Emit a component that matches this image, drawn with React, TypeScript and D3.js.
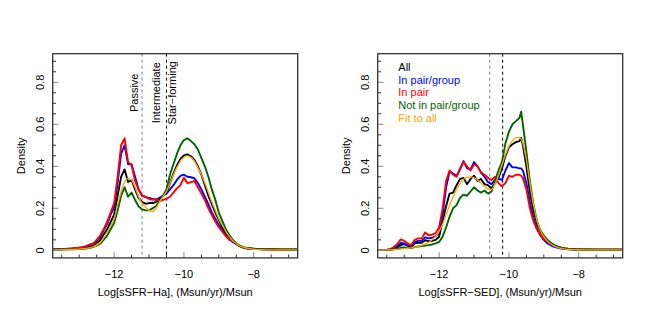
import React from "react";
import * as d3 from "d3";

// ---- left panel: Log[sSFR-Ha] ----
const xHa = [
  -13.76, -13.5, -13.2, -13.0, -12.8,
  -12.7, -12.6, -12.5, -12.4, -12.3, -12.2, -12.1,
  -12.0, -11.9, -11.8, -11.7, -11.6, -11.5, -11.4, -11.3, -11.2, -11.1,
  -11.0, -10.9, -10.8, -10.7, -10.6, -10.5, -10.4, -10.3, -10.2, -10.1,
  -10.0, -9.9, -9.8, -9.7, -9.6, -9.5, -9.4, -9.3, -9.2, -9.1,
  -9.0, -8.9, -8.8, -8.7, -8.6, -8.5, -8.4, -8.3, -8.2,
  -8.0, -7.8, -7.5, -7.2, -6.74,
];
const allHa = [
  0.004, 0.005, 0.007, 0.01, 0.014,
  0.018, 0.025, 0.035, 0.048, 0.075, 0.1, 0.135,
  0.17, 0.26, 0.35, 0.385, 0.325, 0.335, 0.29, 0.25, 0.23, 0.222,
  0.225, 0.225, 0.23, 0.245, 0.26, 0.275, 0.32, 0.365, 0.405, 0.435,
  0.452, 0.457, 0.448, 0.43, 0.4, 0.36, 0.31, 0.26, 0.22, 0.18,
  0.145, 0.11, 0.08, 0.057, 0.042, 0.03, 0.02, 0.014, 0.01,
  0.007, 0.005, 0.004, 0.003, 0.003,
];
const groupHa = [
  0.004, 0.006, 0.008, 0.012, 0.018,
  0.024, 0.033, 0.045, 0.063, 0.095, 0.125, 0.17,
  0.205, 0.32, 0.46, 0.5, 0.41, 0.41, 0.35, 0.29, 0.26, 0.253,
  0.25, 0.245, 0.24, 0.25, 0.26, 0.27, 0.29, 0.31, 0.335, 0.354,
  0.36, 0.35, 0.348, 0.343, 0.32, 0.29, 0.255, 0.22, 0.18, 0.15,
  0.12, 0.097, 0.073, 0.052, 0.04, 0.03, 0.02, 0.013, 0.01,
  0.007, 0.006, 0.004, 0.003, 0.003,
];
const pairHa = [
  0.004, 0.006, 0.01, 0.012, 0.02,
  0.028, 0.03, 0.05, 0.07, 0.1, 0.135, 0.18,
  0.225, 0.35, 0.5, 0.533, 0.42, 0.405, 0.33, 0.29, 0.26, 0.255,
  0.245, 0.24, 0.245, 0.235, 0.24, 0.245, 0.255, 0.275, 0.295, 0.31,
  0.345, 0.32, 0.325, 0.33, 0.3, 0.27, 0.24, 0.2, 0.168, 0.137,
  0.11, 0.089, 0.068, 0.05, 0.048, 0.033, 0.02, 0.013, 0.01,
  0.007, 0.006, 0.004, 0.003, 0.003,
];
const isoHa = [
  0.003, 0.004, 0.005, 0.006, 0.009,
  0.012, 0.016, 0.022, 0.032, 0.05, 0.07, 0.1,
  0.13, 0.19, 0.26, 0.3, 0.255, 0.275, 0.24, 0.21, 0.195, 0.19,
  0.19, 0.2, 0.21, 0.235, 0.26, 0.29, 0.36, 0.41, 0.46, 0.5,
  0.525, 0.533, 0.52, 0.505, 0.48, 0.44, 0.4, 0.35, 0.29, 0.24,
  0.18, 0.14, 0.1, 0.073, 0.05, 0.033, 0.022, 0.015, 0.011,
  0.008, 0.006, 0.005, 0.004, 0.004,
];
const fitHa = [
  0.002, 0.003, 0.004, 0.006, 0.009,
  0.012, 0.017, 0.025, 0.037, 0.058, 0.085, 0.115,
  0.15, 0.215, 0.28, 0.325, 0.343, 0.335, 0.3, 0.255, 0.225, 0.205,
  0.19, 0.185, 0.2, 0.23, 0.255, 0.28, 0.32, 0.36, 0.395, 0.425,
  0.443, 0.45, 0.443, 0.425, 0.395, 0.36, 0.32, 0.275, 0.23, 0.19,
  0.15, 0.12, 0.09, 0.065, 0.046, 0.033, 0.022, 0.015, 0.01,
  0.005, 0.003, 0.002, 0.002, 0.002,
];

// ---- right panel: Log[sSFR-SED] ----
const xSed = [
  -13.76, -13.5, -13.4, -13.3, -13.2, -13.1,
  -13.0, -12.9, -12.8, -12.7, -12.6, -12.5, -12.4, -12.3, -12.2, -12.1,
  -12.0, -11.9, -11.8, -11.7, -11.6, -11.5, -11.4, -11.3, -11.2, -11.1,
  -11.0, -10.9, -10.8, -10.7, -10.6, -10.5, -10.4, -10.3, -10.2, -10.1,
  -10.0, -9.9, -9.8, -9.7, -9.65, -9.6, -9.5, -9.4, -9.3, -9.2, -9.1,
  -9.0, -8.9, -8.8, -8.7, -8.6, -8.5, -8.4, -8.3,
  -8.1, -7.8, -7.5, -7.2, -6.74,
];
const allSed = [
  0.002, 0.002, 0.004, 0.008, 0.015, 0.025,
  0.03, 0.022, 0.015, 0.033, 0.036, 0.036, 0.048, 0.044, 0.045, 0.05,
  0.065, 0.14, 0.21, 0.27, 0.275, 0.31, 0.34, 0.345, 0.315, 0.34,
  0.355, 0.33, 0.34, 0.315, 0.31, 0.295, 0.32, 0.345, 0.39, 0.45,
  0.49, 0.505, 0.515, 0.52, 0.535, 0.5, 0.4, 0.28, 0.19, 0.13, 0.09,
  0.065, 0.047, 0.033, 0.023, 0.016, 0.011, 0.008, 0.006,
  0.004, 0.003, 0.003, 0.003, 0.003,
];
const groupSed = [
  0.002, 0.002, 0.004, 0.01, 0.02, 0.035,
  0.033, 0.024, 0.02, 0.04, 0.045, 0.045, 0.062, 0.057, 0.06, 0.068,
  0.085, 0.17, 0.3, 0.375, 0.365, 0.355, 0.385, 0.425, 0.39, 0.385,
  0.42, 0.4, 0.37, 0.35, 0.325, 0.315, 0.335, 0.34, 0.335, 0.38,
  0.415, 0.395, 0.395, 0.39, 0.39, 0.38, 0.32, 0.23, 0.155, 0.105, 0.072,
  0.05, 0.034, 0.024, 0.017, 0.012, 0.008, 0.006, 0.005,
  0.004, 0.003, 0.003, 0.003, 0.003,
];
const pairSed = [
  0.002, 0.002, 0.005, 0.015, 0.03, 0.052,
  0.045, 0.032, 0.025, 0.05, 0.057, 0.057, 0.085, 0.072, 0.075, 0.082,
  0.11, 0.2, 0.33, 0.38, 0.36, 0.35, 0.39, 0.42, 0.4, 0.38,
  0.41, 0.4, 0.37, 0.36, 0.345, 0.335, 0.35, 0.32, 0.305, 0.32,
  0.355, 0.35, 0.36, 0.36, 0.355, 0.345, 0.29, 0.2, 0.14, 0.1, 0.075,
  0.055, 0.042, 0.032, 0.024, 0.018, 0.013, 0.01, 0.008,
  0.005, 0.003, 0.003, 0.003, 0.003,
];
const isoSed = [
  0.001, 0.002, 0.003, 0.005, 0.008, 0.012,
  0.014, 0.012, 0.011, 0.015, 0.018, 0.02, 0.023, 0.025, 0.028, 0.033,
  0.04, 0.065, 0.11, 0.16, 0.2, 0.215, 0.25, 0.265, 0.26, 0.28,
  0.3, 0.285, 0.275, 0.285, 0.27, 0.28, 0.33, 0.38, 0.42, 0.51,
  0.565, 0.6, 0.615, 0.63, 0.66, 0.6, 0.47, 0.33, 0.22, 0.14, 0.095,
  0.07, 0.05, 0.036, 0.025, 0.017, 0.012, 0.009, 0.007,
  0.005, 0.004, 0.003, 0.003, 0.003,
];
const fitSed = [
  0.001, 0.002, 0.002, 0.003, 0.004, 0.006,
  0.008, 0.01, 0.012, 0.015, 0.019, 0.024, 0.03, 0.038, 0.05, 0.068,
  0.09, 0.125, 0.17, 0.215, 0.255, 0.29, 0.318, 0.338, 0.348, 0.35,
  0.345, 0.335, 0.32, 0.305, 0.292, 0.29, 0.315, 0.355, 0.405, 0.455,
  0.495, 0.522, 0.537, 0.538, 0.53, 0.51, 0.43, 0.32, 0.22, 0.145, 0.095,
  0.065, 0.045, 0.03, 0.02, 0.013, 0.009, 0.006, 0.004,
  0.003, 0.002, 0.002, 0.002, 0.002,
];

const seriesNames = ["All", "In pair/group", "In pair", "Not in pair/group", "Fit to all"];
const seriesColors = ["#000000", "#0000ff", "#ff0000", "#006400", "#ffa500"];
const xMajor = [-12, -10, -8];
const yMajor = [0, 0.2, 0.4, 0.6, 0.8];
const cutsHa = [-11.2, -10.5];
const cutsSed = [-10.55, -10.18];
const zoneNames = ["Passive", "Intermediate", "Star\u2212forming"];
const zoneX = [-11.42, -10.79, -10.33];
const labelHa = "Log[sSFR\u2212Ha], (Msun/yr)/Msun";
const labelSed = "Log[sSFR\u2212SED], (Msun/yr)/Msun";

const FONT = "'Liberation Sans', Arial, Helvetica, sans-serif";
const box = { left: 52.7, right: 297.7, top: 53.7, bottom: 257.9 };
const xlim = [-13.5, -7];
const ylim = [0, 0.9];

type PanelProps = {
  id: string;
  ox: number;
  xs: number[];
  ys: number[][];
  cuts: number[];
  xlabel: string;
  zones?: boolean;
  legend?: boolean;
};

const Panel = ({ id, ox, xs, ys, cuts, xlabel, zones, legend }: PanelProps) => {
  const px = (xlim[1] - xlim[0]) * 0.04;
  const py = (ylim[1] - ylim[0]) * 0.04;
  const x = d3.scaleLinear().domain([xlim[0] - px, xlim[1] + px]).range([box.left, box.right]);
  const y = d3.scaleLinear().domain([ylim[0] - py, ylim[1] + py]).range([box.bottom, box.top]);

  const xMinor = x.ticks(14).filter((t) => t >= xlim[0] && t <= xlim[1]);
  const yMinor = y.ticks(20).filter((t) => t >= -1e-9 && t <= 0.9001);

  const path = (vals: number[], smooth: boolean) =>
    d3
      .line<number>()
      .x((_, i) => x(xs[i]))
      .y((v) => y(v))
      .curve(smooth ? d3.curveMonotoneX : d3.curveLinear)(vals) || "";

  const cx = (box.left + box.right) / 2;
  const cy = (box.top + box.bottom) / 2;

  return (
    <g transform={`translate(${ox},0)`} fontFamily={FONT} fontSize={11}>
      <defs>
        <clipPath id={id}>
          <rect x={box.left} y={box.top} width={box.right - box.left} height={box.bottom - box.top} />
        </clipPath>
      </defs>

      {cuts.map((c, i) => (
        <line key={"c" + i} x1={x(c)} x2={x(c)} y1={box.top} y2={box.bottom}
          stroke={i === 0 ? "#808080" : "#000"} strokeWidth={1} strokeDasharray="3,3" />
      ))}

      <g clipPath={`url(#${id})`}>
        {ys.map((vals, i) => (
          <path key={seriesNames[i]} d={path(vals, i === 4)} fill="none" stroke={seriesColors[i]}
            strokeWidth={i === 4 ? 1.3 : 1.9} strokeLinejoin="round" />
        ))}
      </g>

      {/* ticks inside the box */}
      {xMinor.map((t) => {
        const major = xMajor.includes(t);
        return (
          <line key={"xt" + t} x1={x(t)} x2={x(t)} y1={box.bottom} y2={box.bottom - (major ? 5.7 : 3.3)}
            stroke={major ? "#888" : "#333"} strokeWidth={1} />
        );
      })}
      {yMinor.map((t) => {
        const major = yMajor.some((m) => Math.abs(m - t) < 1e-6);
        return (
          <line key={"yt" + t} x1={box.left} x2={box.left + (major ? 5.7 : 3.3)} y1={y(t)} y2={y(t)}
            stroke={major ? "#888" : "#333"} strokeWidth={1} />
        );
      })}

      <rect x={box.left} y={box.top} width={box.right - box.left} height={box.bottom - box.top}
        fill="none" stroke="#333" strokeWidth={1.3} />

      {xMajor.map((t) => (
        <text key={"xl" + t} x={x(t)} y={274} textAnchor="middle" dominantBaseline="central">
          {t < 0 ? "\u2212" + Math.abs(t) : t}
        </text>
      ))}
      {yMajor.map((t) => (
        <text key={"yl" + t} transform={`translate(40,${y(t)}) rotate(-90)`} textAnchor="middle"
          dominantBaseline="central">
          {t === 0 ? "0" : t.toFixed(1)}
        </text>
      ))}

      <text x={cx} y={292} textAnchor="middle" dominantBaseline="central">{xlabel}</text>
      <text transform={`translate(20.7,${cy}) rotate(-90)`} textAnchor="middle" dominantBaseline="central">
        Density
      </text>

      {zones &&
        zoneNames.map((z, i) => (
          <text key={z} transform={`translate(${x(zoneX[i])},${y(0.75)}) rotate(-90)`} textAnchor="middle"
            dominantBaseline="central">
            {z}
          </text>
        ))}

      {legend &&
        seriesNames.map((s, i) => (
          <text key={"lg" + s} x={box.left + 20.6} y={box.top + 13 + i * 12.85} fill={seriesColors[i]}
            dominantBaseline="central">
            {s}
          </text>
        ))}
    </g>
  );
};

export default function App() {
  return (
    <svg width={650} height={325} style={{ position: "absolute", left: 0, top: 0, background: "#fff" }}>
      <Panel id="clipHa" ox={0} xs={xHa} ys={[allHa, groupHa, pairHa, isoHa, fitHa]} cuts={cutsHa}
        xlabel={labelHa} zones />
      <Panel id="clipSed" ox={325} xs={xSed} ys={[allSed, groupSed, pairSed, isoSed, fitSed]} cuts={cutsSed}
        xlabel={labelSed} legend />
    </svg>
  );
}
